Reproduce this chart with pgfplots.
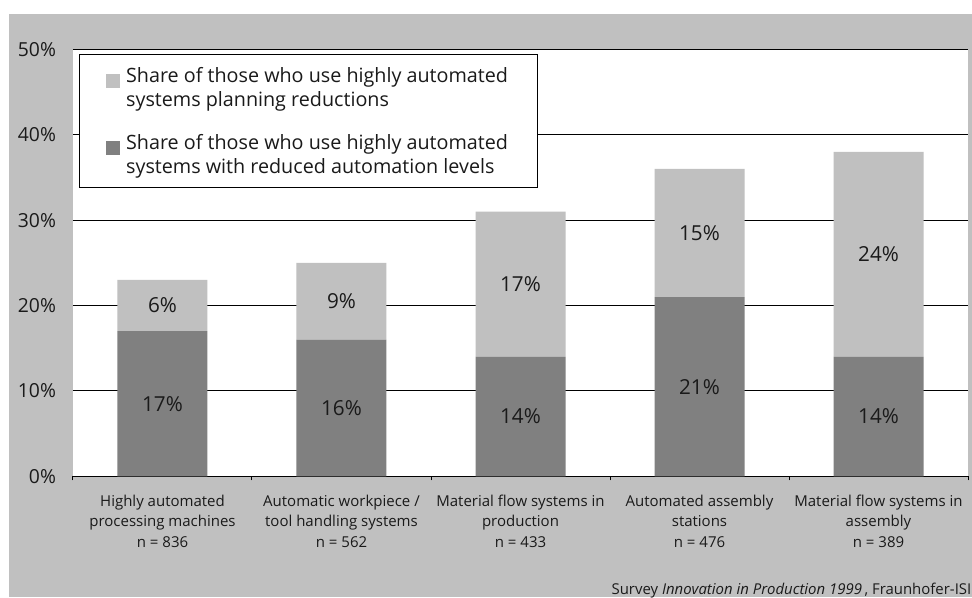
\documentclass[border=0pt]{standalone}
\usepackage{pgfplots}
\pgfplotsset{compat=1.18}
\usepackage{fontspec}
\setmainfont{Open Sans}

\definecolor{bggray}{HTML}{C0C0C0}
\definecolor{darkbar}{HTML}{808080}
\definecolor{lightbar}{HTML}{C0C0C0}
\definecolor{labtext}{HTML}{1A1A1A}

\begin{document}
\begin{tikzpicture}
% page area and grey frame (1px = 0.75pt)
\useasboundingbox (-54.75pt,-90.75pt) rectangle (674.25pt,357.25pt);
\fill[white] (-54.75pt,-90.75pt) rectangle (674.25pt,357.25pt);
\fill[bggray] (-48pt,-90.75pt) rectangle (674.25pt,346.7pt);

\begin{axis}[
  at={(0,0)}, anchor=south west,
  scale only axis, clip=false,
  width=671.25pt, height=320.25pt,
  ybar stacked, bar width=67.5pt,
  xmin=-0.5, xmax=4.5, ymin=0, ymax=50,
  axis background/.style={fill=white},
  axis line style={draw=none},
  axis x line*=bottom,
  x axis line style={draw=black, line width=0.9pt},
  xtick={0,1,2,3,4},
  xticklabels={
    {Highly automated\\processing machines\\n = 836},
    {Automatic workpiece /\\tool handling systems\\n = 562},
    {Material flow systems in\\production\\n = 433},
    {Automated assembly\\stations\\n = 476},
    {Material flow systems in\\assembly\\n = 389}},
  xticklabel style={align=center, font=\fontsize{11.25}{15.5}\selectfont, text=labtext, yshift=-6pt},
  major x tick style={draw=none},
  minor xtick={-0.5,0.5,1.5,2.5,3.5,4.5},
  minor x tick style={draw=black, line width=0.75pt},
  minor tick length=3pt,
  tick align=outside,
  ytick={0,10,20,30,40,50},
  yticklabels={0\%,10\%,20\%,30\%,40\%,50\%},
  y tick style={draw=none},
  yticklabel style={font=\fontsize{14.5}{16}\selectfont, text=labtext, xshift=-5pt},
  ymajorgrids,
  grid style={black, line width=0.75pt},
  /pgf/number format/assume math mode=true,
  reverse legend,
  legend cell align=left,
  legend style={at={(0,1)}, anchor=north west, xshift=4.5pt, yshift=-3.75pt,
    draw=black, line width=0.75pt, fill=white, align=left,
    font=\fontsize{14.8}{17.6}\selectfont, text=labtext,
    inner xsep=20pt, inner ysep=7.5pt, row sep=16pt},
  legend image code/.code={\fill[#1, draw=none] (0pt,0pt) rectangle (10.5pt,10.5pt);
    \path (13pt,0pt);},
  visualization depends on={rawy \as \rawy},
  nodes near coords={\pgfmathprintnumber{\rawy}\%},
  every node near coord/.append style={
    anchor=center, font=\fontsize{15.5}{17}\selectfont, text=labtext},
]
\addplot[fill=darkbar, draw=none] coordinates {(0,17) (1,16) (2,14) (3,21) (4,14)};
\addplot[fill=lightbar, draw=none] coordinates {(0,6) (1,9) (2,17) (3,15) (4,24)};
\legend{Share of those who use highly automated\\systems with reduced automation levels,
        Share of those who use highly automated\\systems planning reductions}
\node[anchor=base east, font=\fontsize{11.2}{12}\selectfont, text=labtext]
  at (rel axis cs:1,0) [xshift=6pt, yshift=-88.5pt]
  {Survey \textit{Innovation in Production 1999}\,, Fraunhofer-ISI};
\end{axis}
\end{tikzpicture}
\end{document}
